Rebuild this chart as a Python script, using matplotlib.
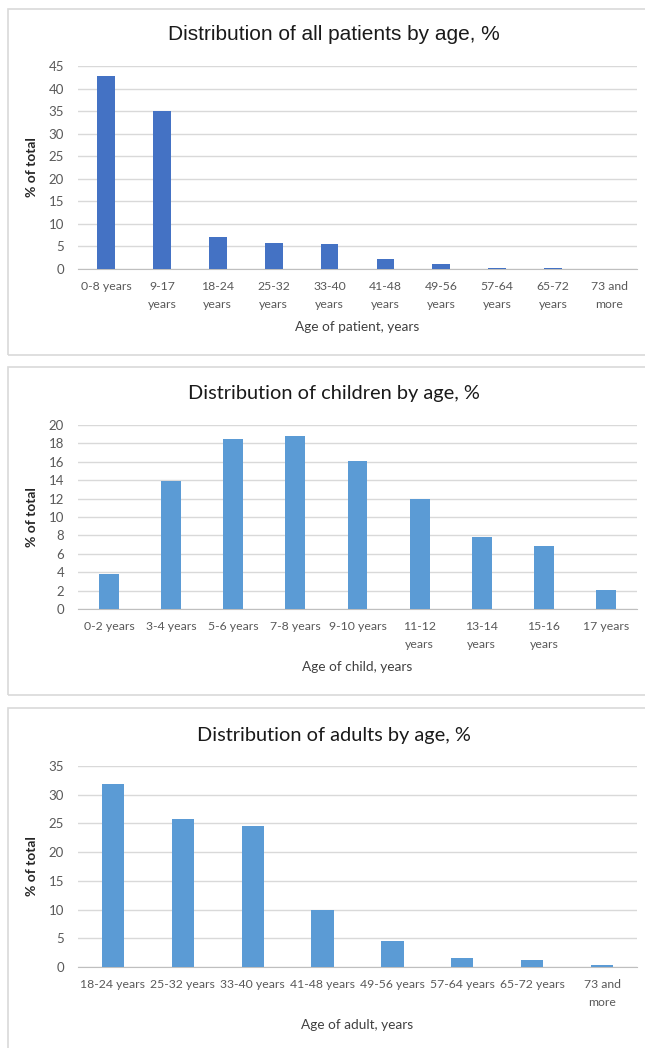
import matplotlib
matplotlib.use("Agg")
import matplotlib.pyplot as plt
from matplotlib.patches import Rectangle

plt.rcParams['font.family'] = ['Lato', 'DejaVu Sans']

# --- data ---
all_labels = ['0-8 years', '9-17\nyears', '18-24\nyears', '25-32\nyears', '33-40\nyears',
              '41-48\nyears', '49-56\nyears', '57-64\nyears', '65-72\nyears', '73 and\nmore']
all_values = [42.7, 35.1, 7.1, 5.8, 5.5, 2.2, 1.0, 0.3, 0.3, 0.05]

child_labels = ['0-2 years', '3-4 years', '5-6 years', '7-8 years', '9-10 years',
                '11-12\nyears', '13-14\nyears', '15-16\nyears', '17 years']
child_values = [3.8, 13.9, 18.5, 18.8, 16.1, 12.0, 7.8, 6.9, 2.1]

adult_labels = ['18-24 years', '25-32 years', '33-40 years', '41-48 years', '49-56 years',
                '57-64 years', '65-72 years', '73 and\nmore']
adult_values = [31.9, 25.8, 24.5, 9.9, 4.5, 1.6, 1.2, 0.4]

W, H = 645, 1048
fig = plt.figure(figsize=(W / 100, H / 100), dpi=100)
fig.patch.set_facecolor('white')


def px(x0, y_top, x1, y_bot):
    # pixel box -> figure fraction [left, bottom, width, height]
    return [x0 / W, 1 - y_bot / H, (x1 - x0) / W, (y_bot - y_top) / H]


panels = [
    # labels, values, colour, ymax, step, title, title font, title size, xlabel,
    # border top/bottom, axes top/bottom, title y, xlabel y
    (all_labels, all_values, '#4472C4', 45, 5, 'Distribution of all patients by age, %',
     'Liberation Sans', 15, 'Age of patient, years', 9, 355, 66, 269, 35, 327),
    (child_labels, child_values, '#5B9BD5', 20, 2, 'Distribution of children by age, %',
     'Lato', 14.4, 'Age of child, years', 367, 695, 425, 609, 393, 667),
    (adult_labels, adult_values, '#5B9BD5', 35, 5, 'Distribution of adults by age, %',
     'Lato', 14.4, 'Age of adult, years', 708, 1052, 766, 967, 736, 1025),
]

for (labels, values, color, ymax, step, title, tfont, tsize, xlabel,
     bt, bb, at, ab, ty, xly) in panels:
    # light panel border like Excel chart area
    fig.patches.append(Rectangle((8 / W, 1 - bb / H), (660 - 8) / W, (bb - bt) / H,
                                 transform=fig.transFigure, fill=False,
                                 edgecolor='#D9D9D9', linewidth=1.2))
    ax = fig.add_axes(px(78, at, 637, ab))
    n = len(values)
    ax.bar(range(n), values, width=0.32, color=color, zorder=3)
    ax.set_xlim(-0.5, n - 0.5)
    ax.set_ylim(0, ymax)
    ax.set_yticks(range(0, ymax + 1, step))
    ax.set_xticks(range(n))
    ax.set_xticklabels(labels, fontsize=8.8, color='#595959', linespacing=1.7)
    ax.tick_params(axis='y', labelsize=9.5, labelcolor='#595959', length=0, pad=10)
    ax.tick_params(axis='x', length=0, pad=9)
    ax.grid(axis='y', color='#D9D9D9', linewidth=1, zorder=0)
    for s in ['top', 'right', 'left']:
        ax.spines[s].set_visible(False)
    ax.spines['bottom'].set_color('#BFBFBF')
    ax.set_ylabel('% of total', fontsize=10, fontweight='bold', color='#262626')
    ax.yaxis.set_label_coords(-0.072, 0.5)
    fig.text(334 / W, 1 - ty / H, title, ha='center', va='center', fontsize=tsize,
             color='#1a1a1a', family=[tfont, 'DejaVu Sans'])
    fig.text(357 / W, 1 - xly / H, xlabel, ha='center', va='center', fontsize=9.8, color='#404040')

fig.savefig('out.png', dpi=100)
